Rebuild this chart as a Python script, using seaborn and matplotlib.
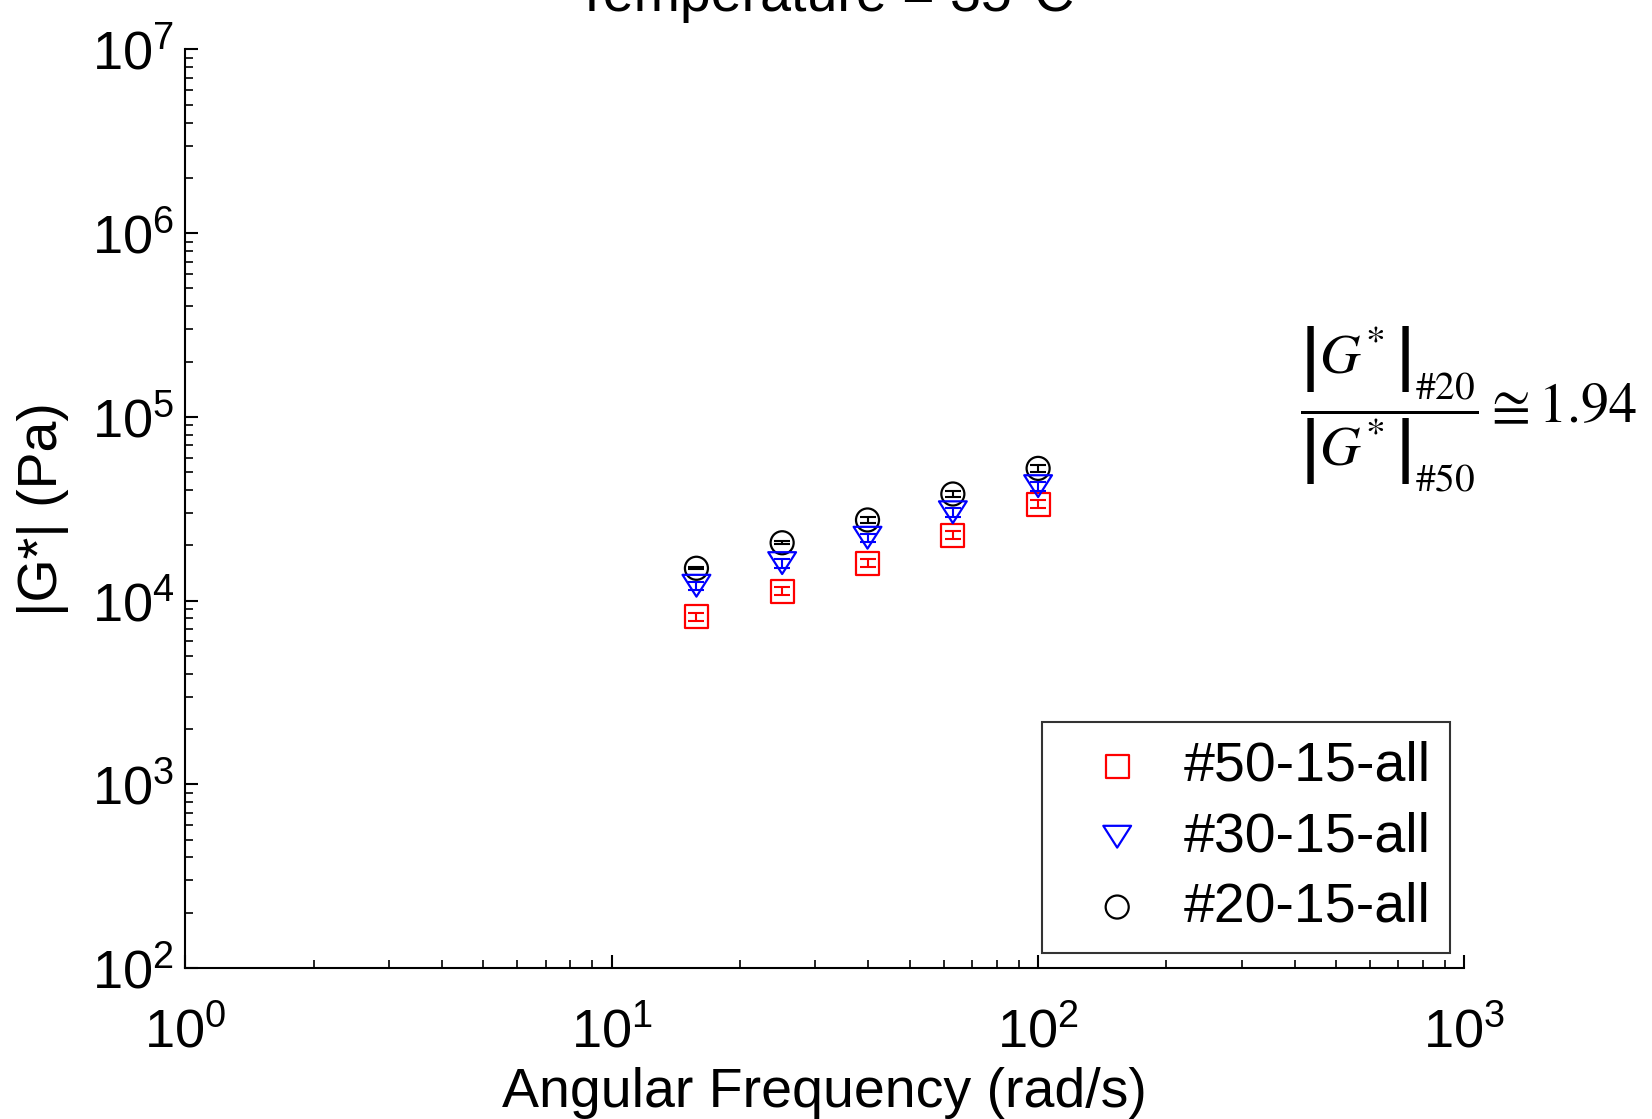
import matplotlib
matplotlib.use("Agg")
import io
import matplotlib.pyplot as plt
import matplotlib.mathtext as mathtext
from matplotlib.path import Path
import seaborn as sns
import numpy as np
import pandas as pd

# ---- data ----
freq = [15.8, 25.1, 39.8, 63.1, 100.0]
g50 = [8170, 11250, 16000, 22750, 33420]
g30 = [12050, 16000, 21990, 30270, 41980]
g20 = [15000, 20650, 27470, 38050, 52450]
err50 = [420, 560, 800, 1140, 1670]
err30 = [650, 860, 1190, 1630, 2270]
err20 = [230, 410, 1100, 1520, 2100]
labels = ["#50-15-all", "#30-15-all", "#20-15-all"]
colors = ["#ff0000", "#0000ff", "#000000"]
title = "Temperature = 35°C"
xlabel = "Angular Frequency (rad/s)"
ylabel = "|G*| (Pa)"

sns.set_style("ticks")
plt.rcParams["font.family"] = ["Liberation Sans", "DejaVu Sans"]
plt.rcParams["mathtext.fontset"] = "custom"
plt.rcParams["mathtext.rm"] = "Liberation Sans"
for k in ["text.color", "axes.labelcolor", "xtick.color", "ytick.color", "axes.edgecolor"]:
    plt.rcParams[k] = "black"

fig = plt.figure(figsize=(16.52, 11.19), dpi=100)
ax = fig.add_axes([0.1122, 0.1349, 0.7743, 0.8209])

tri = Path([(-1, 0.785), (1, 0.785), (0, -0.785), (-1, 0.785)], closed=True)
markers = ["s", tri, "o"]
sizes = [275, 400, 275]
zorders = [3, 4, 2]
series = [g50, g30, g20]
errs = [err50, err30, err20]

for lab, col, mk, sz, zo, ys, es in zip(labels, colors, markers, sizes, zorders, series, errs):
    df = pd.DataFrame({"freq": freq, "G": ys})
    ax.errorbar(freq, ys, yerr=es, fmt="none", ecolor=col, elinewidth=1.5,
                capsize=6, capthick=1.5, zorder=zo)
    sns.scatterplot(data=df, x="freq", y="G", ax=ax, marker=mk, s=sz,
                    facecolor="none", edgecolor=col, linewidth=1.6,
                    label=lab, zorder=zo)

ax.set_xscale("log")
ax.set_yscale("log")
ax.set_xlim(1, 1000)
ax.set_ylim(100, 1e7)

sns.despine(ax=ax)
for s in ["left", "bottom"]:
    ax.spines[s].set_linewidth(1.5)
    ax.spines[s].set_color("black")

ax.tick_params(axis="both", which="major", direction="in", length=9.5, width=1.5,
               labelsize=39, color="black")
ax.tick_params(axis="both", which="minor", direction="in", length=5.8, width=1.2,
               color="black")
ax.tick_params(axis="x", which="major", pad=28)
ax.tick_params(axis="y", which="major", pad=8)

ax.set_xlabel(xlabel, fontsize=40, labelpad=6)
ax.set_ylabel(ylabel, fontsize=40, labelpad=16)
ax.set_title(title, fontsize=40, pad=28)

leg = ax.legend(loc="lower right", bbox_to_anchor=(0.989, 0.0163), borderaxespad=0,
                fontsize=40, frameon=True, fancybox=False, edgecolor="black",
                labelspacing=0.33, handletextpad=0.2, borderpad=0.35,
                handlelength=2.0)
leg.get_frame().set_linewidth(1.5)

candidates = [
    r"$\dfrac{\left|\genfrac{}{}{0}{0}{G^{*}}{\,}\right|_{\#20}}"
    r"{\left|\genfrac{}{}{0}{0}{G^{*}}{\,}\right|_{\#50}}\cong 1.94$",
    r"$\dfrac{\left|G^{*}\right|_{\#20}}{\left|G^{*}\right|_{\#50}}\cong 1.94$",
]
ann = candidates[-1]
for c in candidates:
    try:
        mathtext.math_to_image(c, io.BytesIO(), prop=None, dpi=50, format="png")
        ann = c
        break
    except Exception:
        continue

fig.text(0.787, 0.634, ann, fontsize=40.5, math_fontfamily="stix", ha="left", va="center")

fig.savefig("out.png", dpi=100)
